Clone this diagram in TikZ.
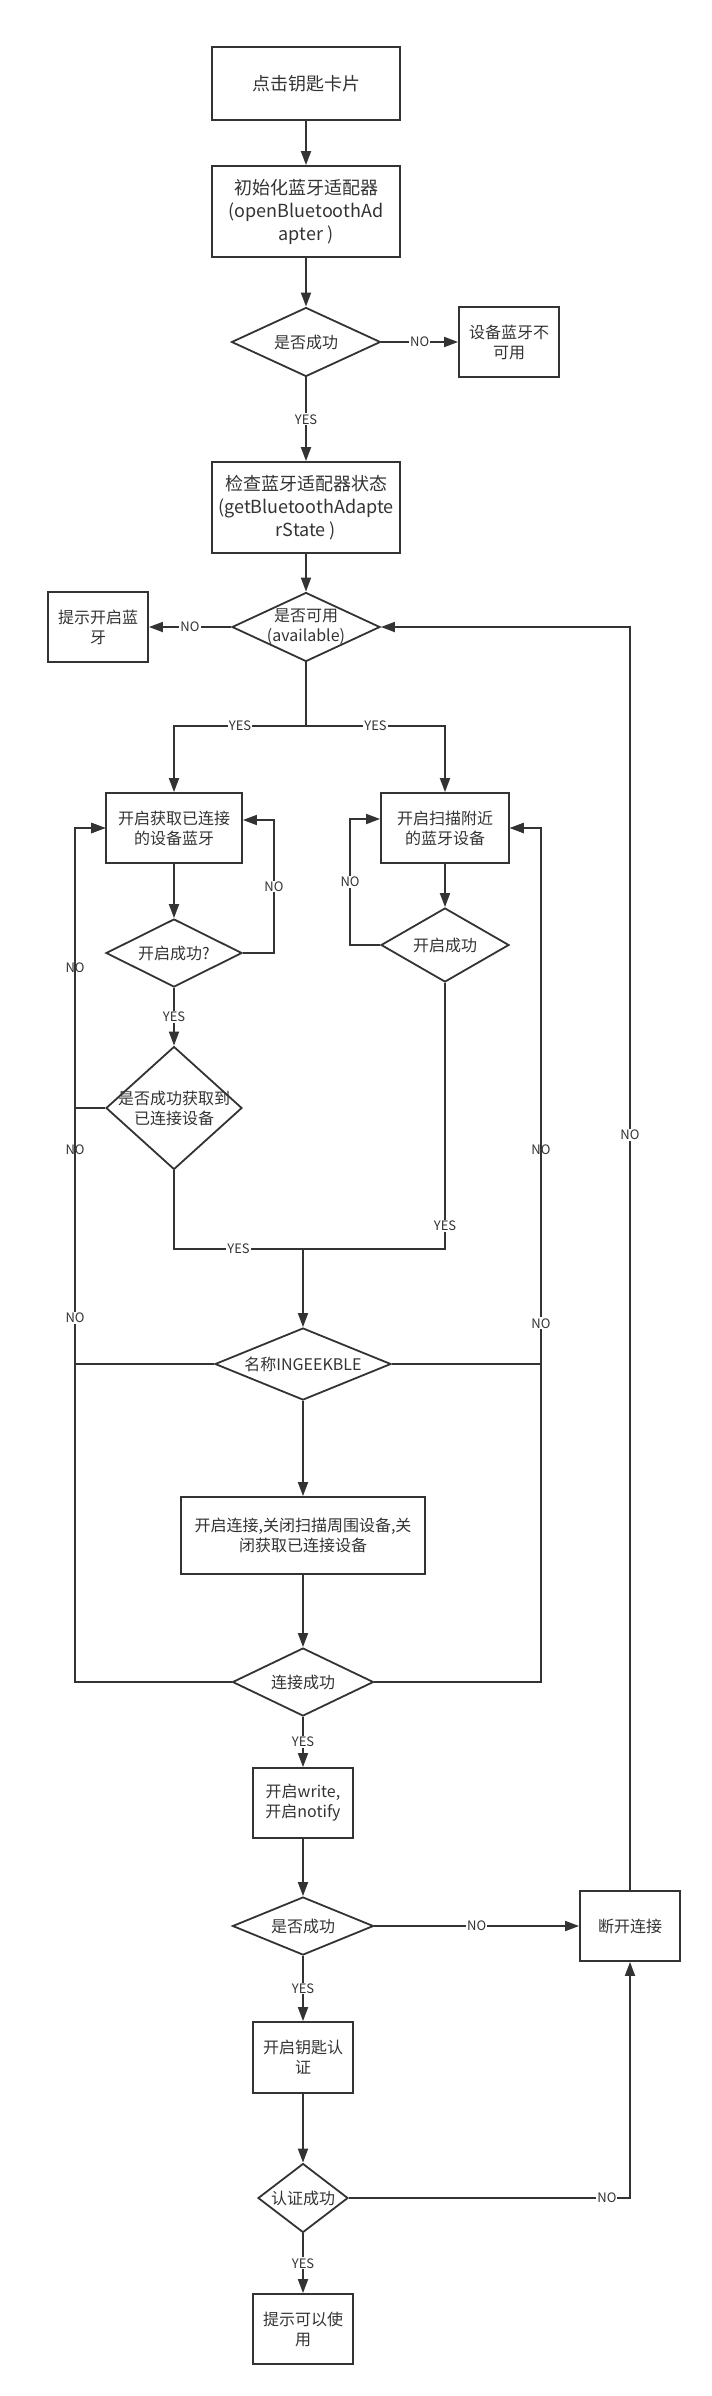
\documentclass[tikz,border=0pt]{standalone}
\usepackage{fontspec}
\setmainfont{Noto Sans CJK SC}
\usepackage{xcolor}
\usepackage{tikz}
\usetikzlibrary{shapes.geometric,arrows.meta}
\definecolor{ink}{HTML}{333333}

\begin{document}
\begin{tikzpicture}[x=1pt,y=-1pt,
	ink, text=ink, line width=1.8pt,
	font=\fontsize{16}{20}\selectfont,
	bigfont/.style={font=\fontsize{18}{23}\selectfont},
	process/.style={rectangle, draw, align=center, inner sep=0pt},
	decision/.style={diamond, draw, inner sep=0pt, label={[align=center]center:#1}},
	flow/.style={-{Triangle[length=14pt,width=10pt]}},
	lbl/.style={fill=white, inner sep=1pt, font=\fontsize{13}{15}\selectfont}]
		\useasboundingbox (0,0) rectangle (712,2396);
		%top column
		\node[process, bigfont, minimum width=188, minimum height=73] (click) at (306,83.5) {点击钥匙卡片};
		\node[process, bigfont, minimum width=188, minimum height=91] (init) at (306,211.5) {初始化蓝牙适配器\\(openBluetoothAd\\apter )};
		\node[decision={是否成功}, minimum width=149, minimum height=69] (okA) at (306,342) {};
		\node[process, minimum width=100, minimum height=70] (nobt) at (509,342) {设备蓝牙不\\可用};
		\node[process, bigfont, minimum width=188, minimum height=91] (check) at (306,507.5) {检查蓝牙适配器状态\\(getBluetoothAdapte\\rState )};
		\node[decision={是否可用\\(available)}, minimum width=148, minimum height=69] (avail) at (306,627) {};
		\node[process, minimum width=100, minimum height=70] (hint) at (98,627) {提示开启蓝\\牙};
		\coordinate (split) at (306,726);
		
		%two branches
		\node[process, minimum width=136, minimum height=70] (getc) at (174,828) {开启获取已连接\\的设备蓝牙};
		\node[process, minimum width=128, minimum height=70] (scan) at (445,828) {开启扫描附近\\的蓝牙设备};
		\node[decision={开启成功?}, minimum width=136, minimum height=68] (okB) at (174,953) {};
		\node[decision={开启成功}, minimum width=128, minimum height=74] (scanok) at (445,945) {};
		\node[decision={是否成功获取到\\已连接设备}, minimum width=136, minimum height=123] (got) at (174,1108) {};
		
		%lower column
		\node[decision={名称INGEEKBLE}, minimum width=176, minimum height=72] (name) at (303,1364) {};
		\node[process, minimum width=244, minimum height=77] (conn) at (303,1535.5) {开启连接,关闭扫描周围设备,关\\闭获取已连接设备};
		\node[decision={连接成功}, minimum width=141, minimum height=68] (connok) at (303,1682) {};
		\node[process, minimum width=100, minimum height=70] (write) at (303,1803) {开启write,\\开启notify};
		\node[decision={是否成功}, minimum width=141, minimum height=58] (okC) at (303,1926) {};
		\node[process, minimum width=100, minimum height=70] (disc) at (630,1926) {断开连接};
		\node[process, minimum width=100, minimum height=71] (auth) at (303,2057.5) {开启钥匙认\\证};
		\node[decision={认证成功}, minimum width=90, minimum height=69] (authok) at (303,2198) {};
		\node[process, minimum width=100, minimum height=70] (usable) at (303,2329) {提示可以使\\用};
		\coordinate (join) at (303,1249);
		
		%adapter
		\draw[flow] (click) -- (init);
		\draw[flow] (init) -- (okA);
		\draw[flow] (okA.east) -- node[lbl]{NO} (nobt.west);
		\draw[flow] (okA.south) -- node[lbl]{YES} (check.north);
		\draw[flow] (check) -- (avail);
		\draw[flow] (avail.west) -- node[lbl]{NO} (hint.east);
		
		%split
		\draw (avail.south) -- (split);
		\draw[flow] (split) -| node[lbl,pos=0.25]{YES} (getc.north);
		\draw[flow] (split) -| node[lbl,pos=0.25]{YES} (scan.north);
		
		%connected devices
		\draw[flow] (getc) -- (okB);
		\draw[flow] (okB.east) -- ++(31,0) |- node[lbl,pos=0.25]{NO} ([yshift=8]getc.east);
		\draw[flow] (okB.south) -- node[lbl]{YES} (got.north);
		\draw[flow] (got.west) -| node[lbl,pos=0.75]{NO} ([xshift=-30]getc.west) -- (getc.west);
		
		%scan
		\draw[flow] (scan) -- (scanok);
		\draw[flow] (scanok.west) -- ++(-30,0) |- node[lbl,pos=0.25]{NO} ([yshift=9]scan.west);
		
		%join
		\draw (got.south) |- node[lbl,pos=0.75]{YES} (join);
		\draw (scanok.south) |- node[lbl,pos=0.457]{YES} (join);
		\draw[flow] (join) -- (name.north);
		
		%name check
		\draw[flow] (name.west) -| node[lbl,pos=0.70]{NO} ([xshift=-30]getc.west) -- (getc.west);
		\draw[flow] (name.east) -| node[lbl,pos=0.70]{NO} ([xshift=31]scan.east) -- (scan.east);
		\draw[flow] (name) -- (conn);
		\draw[flow] (conn) -- (connok);
		
		%connect result
		\draw[flow] (connok.west) -| node[lbl,pos=0.713]{NO} ([xshift=-30]getc.west) -- (getc.west);
		\draw[flow] (connok.east) -| node[lbl,pos=0.71]{NO} ([xshift=31]scan.east) -- (scan.east);
		\draw[flow] (connok.south) -- node[lbl]{YES} (write.north);
		\draw[flow] (write) -- (okC);
		
		%auth
		\draw[flow] (okC.east) -- node[lbl]{NO} (disc.west);
		\draw[flow] (okC.south) -- node[lbl]{YES} (auth.north);
		\draw[flow] (auth) -- (authok);
		\draw[flow] (authok.east) -| node[lbl,pos=0.459]{NO} (disc.south);
		\draw[flow] (authok.south) -- node[lbl]{YES} (usable.north);
		
		%back to adapter
		\draw[flow] (disc.north) |- node[lbl,pos=0.299]{NO} (avail.east);
	\end{tikzpicture}
\end{document}
